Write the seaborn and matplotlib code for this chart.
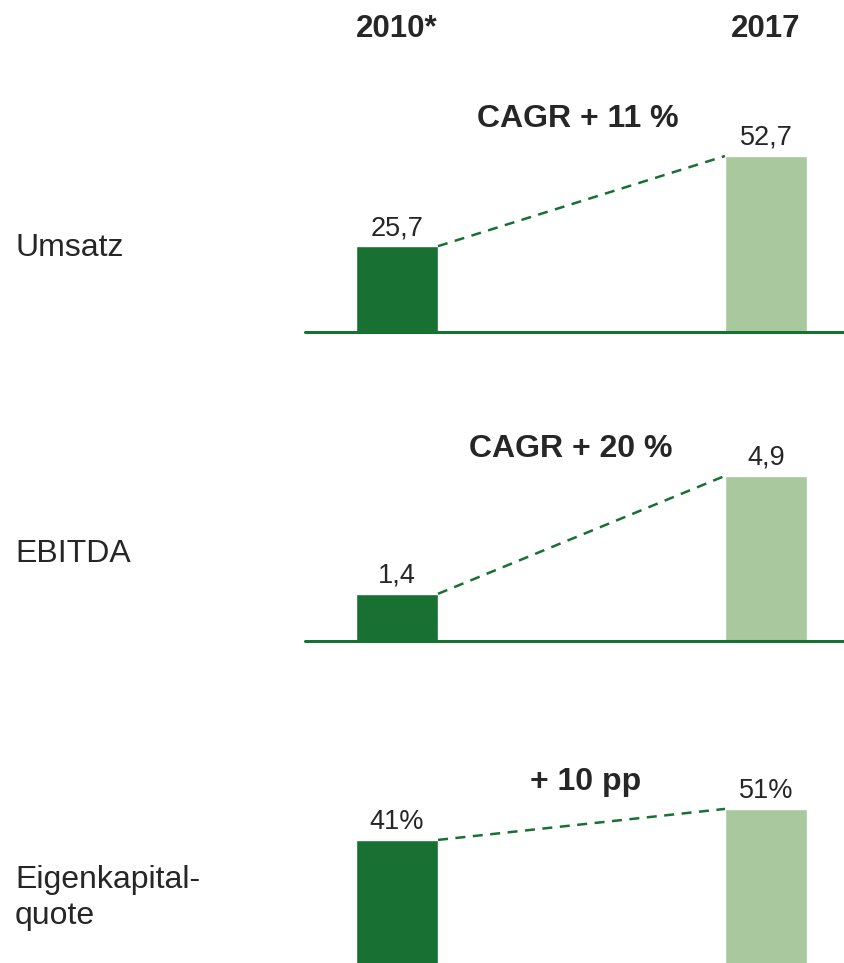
import matplotlib
matplotlib.use("Agg")
import matplotlib.pyplot as plt
import seaborn as sns

sns.set_style("white")
plt.rcParams["font.family"] = ["Liberation Sans", "DejaVu Sans"]

# data
years = ["2010*", "2017"]
metrics = ["Umsatz", "EBITDA", "Eigenkapital-\nquote"]
umsatz = [25.7, 52.7]
ebitda = [1.4, 4.9]
ek_quote = [41, 51]
value_labels = [["25,7", "52,7"], ["1,4", "4,9"], ["41%", "51%"]]
growth_labels = ["CAGR + 11 %", "CAGR + 20 %", "+ 10 pp"]

dark_green = "#187032"
light_green = "#a9c89e"
text_col = "#262626"

W, H = 845, 963
fig = plt.figure(figsize=(W / 100, H / 100), dpi=100)

# layout per panel: baseline (px from top), px per unit, growth label pos (x data, y axes frac),
# row label baseline (px from top, last line)
panels = [
    (332, 3.34, 0.49, 0.82, 256),
    (641, 33.7, 0.47, 0.736, 562),
    (967, 3.10, 0.51, 0.708, 924),
]
series = [umsatz, ebitda, ek_quote]

ax_left, ax_right = 305, 845
bar_w = 82 / 369
x_lo = (ax_left - 397) / 369
x_hi = (ax_right - 397) / 369
ax_h = 250

first_ax = None
for i, (base, scale, gx, gy, label_y) in enumerate(panels):
    ax = fig.add_axes([ax_left / W, (H - base) / H, (ax_right - ax_left) / W, ax_h / H])
    vals = series[i]
    sns.barplot(x=years, y=vals, hue=years, palette=[dark_green, light_green],
                saturation=1, width=bar_w, legend=False, ax=ax)
    ax.set_xlim(x_lo, x_hi)
    ax.set_ylim(0, ax_h / scale)
    ax.axis("off")
    ax.axhline(0, color=dark_green, lw=2.2, clip_on=False)

    bars = ax.patches
    b0, b1 = bars[0], bars[1]
    ax.plot([b0.get_x() + b0.get_width(), b1.get_x()], [b0.get_height(), b1.get_height()],
            color=dark_green, lw=1.8, ls=(0, (4, 3)))

    for j, p in enumerate(bars):
        ax.annotate(value_labels[i][j], (p.get_x() + p.get_width() / 2, p.get_height()),
                    xytext=(0, 8), textcoords="offset points", ha="center", va="baseline",
                    fontsize=19.5, color=text_col, annotation_clip=False)

    ax.text(gx, gy, growth_labels[i], transform=ax.get_xaxis_transform(), ha="center",
            va="baseline", fontsize=23, fontweight="bold", color=text_col)

    fig.text(15 / W, 1 - label_y / H, metrics[i], ha="left", va="baseline",
             fontsize=23, color=text_col, linespacing=1.25)

    if first_ax is None:
        first_ax = ax

# year headers above the columns
for j, yr in enumerate(years):
    first_ax.text(j, (H - 37) / H, yr, transform=first_ax.get_xaxis_transform().__class__(
        first_ax.transData, fig.transFigure), ha="center", va="baseline",
        fontsize=22.5, fontweight="bold", color=text_col)

fig.savefig("out.png", dpi=100)
